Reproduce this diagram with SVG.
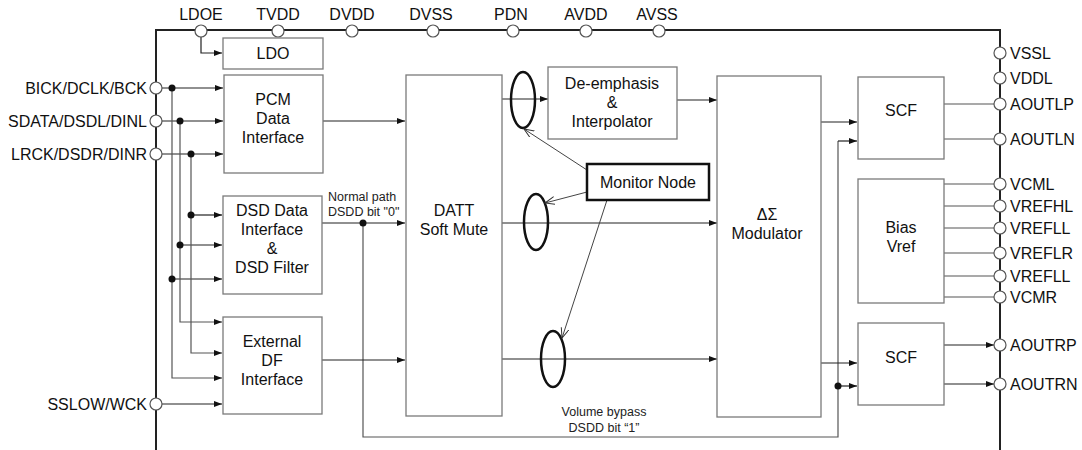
<svg xmlns="http://www.w3.org/2000/svg" width="1082" height="450" viewBox="0 0 1082 450">
<defs>
<marker id="ah" markerUnits="userSpaceOnUse" markerWidth="9" markerHeight="7" refX="8" refY="3" orient="auto"><path d="M0,0 L8,3 L0,6 z" fill="#111"/></marker>
<marker id="oh" markerUnits="userSpaceOnUse" markerWidth="12" markerHeight="10" refX="10" refY="4" orient="auto"><path d="M0,0 L10,4 L0,8" fill="none" stroke="#333" stroke-width="1"/></marker>
</defs>
<style>
.box{fill:#fff;stroke:#7a7a7a;stroke-width:1.3}
.t{font-family:"Liberation Sans",Arial,sans-serif;font-size:16px;fill:#111;text-anchor:middle}
.pl{font-family:"Liberation Sans",Arial,sans-serif;font-size:16px;fill:#111}
.sm{font-family:"Liberation Sans",Arial,sans-serif;font-size:12.5px;fill:#222}
.w{fill:none;stroke:#222;stroke-width:1.2}
.wg{fill:none;stroke:#555;stroke-width:1.2}
.a{marker-end:url(#ah)}
.pin{fill:#fff;stroke:#555;stroke-width:1.2}
.dot{fill:#111}
.ell{fill:none;stroke:#111;stroke-width:2.5}
.mon{fill:none;stroke:#444;stroke-width:1}
</style>
<g id="chip"><path d="M156,450 V30 H1000 V450" fill="none" stroke="#222" stroke-width="2"/></g>
<g id="connectors">
<path class="w a" d="M201,36 V53 H222"/>
<path class="w a" d="M162,88 H223"/>
<path class="w a" d="M162,121 H223"/>
<path class="w a" d="M162,154 H223"/>
<path class="wg a" d="M172,88 V378 H222"/>
<path class="w a" d="M172,279 H222"/>
<path class="wg a" d="M180,121 V322 H222"/>
<path class="w a" d="M180,245 H222"/>
<path class="wg a" d="M191,154 V353 H222"/>
<path class="w a" d="M191,215 H222"/>
<path class="w a" d="M162,404 H222"/>
<path class="w a" d="M323,121 H405"/>
<path class="w a" d="M322,223 H405"/>
<path class="wg" d="M363,223 V437 H838 V141"/>
<path class="w a" d="M838,141 H857"/>
<path class="w a" d="M838,386 H857"/>
<path class="w a" d="M322,360 H405"/>
<path class="w a" d="M502,99 H548"/>
<path class="w a" d="M677,100 H717"/>
<path class="w a" d="M502,223 H717"/>
<path class="w a" d="M502,359 H717"/>
<path class="w a" d="M821,122 H857"/>
<path class="w a" d="M821,363 H857"/>
<path class="wg" d="M944,104 H994 M944,139 H994 M944,184 H994 M944,206 H994 M944,228 H994 M944,253 H994 M944,276 H994 M944,297 H994"/>
<path class="w a" d="M944,345 H994"/>
<path class="w a" d="M944,384 H994"/>
<circle class="dot" cx="172" cy="88" r="3.5"/>
<circle class="dot" cx="180" cy="121" r="3.5"/>
<circle class="dot" cx="191" cy="154" r="3.5"/>
<circle class="dot" cx="191" cy="215" r="3.5"/>
<circle class="dot" cx="180" cy="245" r="3.5"/>
<circle class="dot" cx="172" cy="279" r="3.5"/>
<circle class="dot" cx="363" cy="223" r="3.5"/>
<circle class="dot" cx="838" cy="386" r="3.5"/>
<ellipse class="ell" cx="523" cy="100" rx="12" ry="28"/>
<ellipse class="ell" cx="536" cy="222" rx="12" ry="28"/>
<ellipse class="ell" cx="553" cy="359" rx="12" ry="28"/>
<path class="mon" marker-end="url(#oh)" d="M587,170 L524,129"/>
<path class="mon" marker-end="url(#oh)" d="M587,192 L545,203"/>
<path class="mon" marker-end="url(#oh)" d="M607,200 L562,338"/>
</g>
<g id="pins">
<circle class="pin" cx="201" cy="31" r="6"/>
<circle class="pin" cx="278" cy="31" r="6"/>
<circle class="pin" cx="352" cy="31" r="6"/>
<circle class="pin" cx="433" cy="31" r="6"/>
<circle class="pin" cx="513" cy="31" r="6"/>
<circle class="pin" cx="586" cy="31" r="6"/>
<circle class="pin" cx="659" cy="31" r="6"/>
<text class="t" x="201" y="20">LDOE</text>
<text class="t" x="278" y="20">TVDD</text>
<text class="t" x="352" y="20">DVDD</text>
<text class="t" x="431" y="20">DVSS</text>
<text class="t" x="511" y="20">PDN</text>
<text class="t" x="586" y="20">AVDD</text>
<text class="t" x="657" y="20">AVSS</text>
<circle class="pin" cx="156" cy="88" r="6"/>
<circle class="pin" cx="156" cy="121" r="6"/>
<circle class="pin" cx="156" cy="154" r="6"/>
<circle class="pin" cx="156" cy="404" r="6"/>
<text class="pl" x="147" y="94" text-anchor="end">BICK/DCLK/BCK</text>
<text class="pl" x="147" y="127" text-anchor="end">SDATA/DSDL/DINL</text>
<text class="pl" x="147" y="160" text-anchor="end">LRCK/DSDR/DINR</text>
<text class="pl" x="147" y="410" text-anchor="end">SSLOW/WCK</text>
<circle class="pin" cx="1000" cy="53" r="6"/>
<circle class="pin" cx="1000" cy="78" r="6"/>
<circle class="pin" cx="1000" cy="104" r="6"/>
<circle class="pin" cx="1000" cy="139" r="6"/>
<circle class="pin" cx="1000" cy="184" r="6"/>
<circle class="pin" cx="1000" cy="206" r="6"/>
<circle class="pin" cx="1000" cy="228" r="6"/>
<circle class="pin" cx="1000" cy="253" r="6"/>
<circle class="pin" cx="1000" cy="276" r="6"/>
<circle class="pin" cx="1000" cy="297" r="6"/>
<circle class="pin" cx="1000" cy="345" r="6"/>
<circle class="pin" cx="1000" cy="384" r="6"/>
<text class="pl" x="1010" y="59">VSSL</text>
<text class="pl" x="1010" y="84">VDDL</text>
<text class="pl" x="1010" y="110">AOUTLP</text>
<text class="pl" x="1010" y="145">AOUTLN</text>
<text class="pl" x="1010" y="190">VCML</text>
<text class="pl" x="1010" y="212">VREFHL</text>
<text class="pl" x="1010" y="234">VREFLL</text>
<text class="pl" x="1010" y="259">VREFLR</text>
<text class="pl" x="1010" y="282">VREFLL</text>
<text class="pl" x="1010" y="303">VCMR</text>
<text class="pl" x="1010" y="351">AOUTRP</text>
<text class="pl" x="1010" y="390">AOUTRN</text>
</g>
<g id="ldo"><rect class="box" x="223" y="38" width="100" height="31"/><text class="t" x="273" y="59">LDO</text></g>
<g id="pcm"><rect class="box" x="224" y="75" width="99" height="98"/><text class="t" x="273" y="105">PCM</text><text class="t" x="273" y="124">Data</text><text class="t" x="273" y="143">Interface</text></g>
<g id="dsd"><rect class="box" x="223" y="196" width="99" height="98"/><text class="t" x="272" y="216">DSD Data</text><text class="t" x="272" y="235">Interface</text><text class="t" x="272" y="254">&amp;</text><text class="t" x="272" y="273">DSD Filter</text></g>
<g id="extdf"><rect class="box" x="223" y="317" width="99" height="97"/><text class="t" x="272" y="347">External</text><text class="t" x="272" y="366">DF</text><text class="t" x="272" y="385">Interface</text></g>
<g id="datt"><rect class="box" x="406" y="75" width="96" height="341"/><text class="t" x="454" y="216">DATT</text><text class="t" x="454" y="235">Soft Mute</text></g>
<g id="deemph"><rect class="box" x="548" y="67" width="129" height="72"/><text class="t" x="612" y="89">De-emphasis</text><text class="t" x="612" y="108">&amp;</text><text class="t" x="612" y="127">Interpolator</text></g>
<g id="monitor"><rect x="587" y="164" width="122" height="36" fill="#fff" stroke="#111" stroke-width="2.5"/><text class="t" x="648" y="188">Monitor Node</text></g>
<g id="modulator"><rect class="box" x="717" y="76" width="104" height="341"/><text class="t" x="767" y="220">ΔΣ</text><text class="t" x="767" y="239">Modulator</text></g>
<g id="scf1"><rect class="box" x="858" y="77" width="86" height="82"/><text class="t" x="901" y="116">SCF</text></g>
<g id="bias"><rect class="box" x="858" y="179" width="86" height="124"/><text class="t" x="901" y="233">Bias</text><text class="t" x="901" y="252">Vref</text></g>
<g id="scf2"><rect class="box" x="858" y="323" width="86" height="82"/><text class="t" x="901" y="363">SCF</text></g>
<g id="labels">
<text class="sm" x="328" y="201">Normal path</text>
<text class="sm" x="328" y="216">DSDD bit "0"</text>
<text class="sm" x="604" y="416" text-anchor="middle">Volume bypass</text>
<text class="sm" x="604" y="432" text-anchor="middle">DSDD bit “1”</text>
</g>
</svg>
